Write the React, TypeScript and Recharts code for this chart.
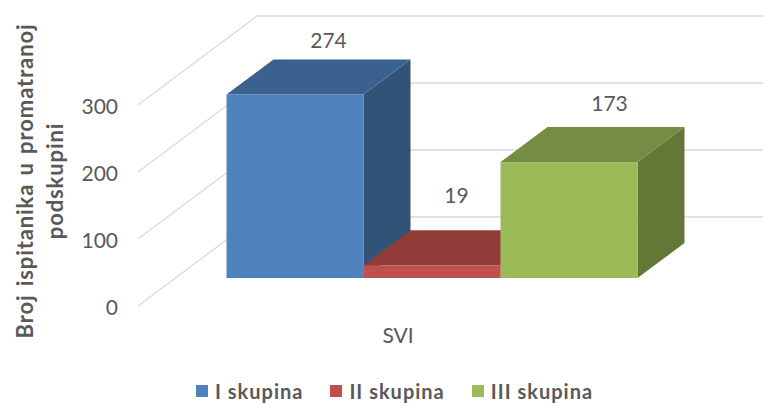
import React from "react";
import { BarChart, Bar, XAxis, YAxis, CartesianGrid, Legend, LabelList } from "recharts";

const categories = ["SVI"];
const seriesNames = ["I skupina", "II skupina", "III skupina"];
const seriesValues = [[274], [19], [173]];
const yTicks = [0, 100, 200, 300];
const yTitleLines = ["Broj ispitanika u promatranoj", "podskupini"];
const frontColors = ["#4F81BD", "#C0504D", "#9BBB59"];
const topColors = ["#3B618E", "#903C39", "#748C43"];
const sideColors = ["#325378", "#7B3331", "#637736"];
const labelShifts = [[68, -82.5], [59, -99], [75, -88]];

const data = categories.map((c, i) => {
  const row: Record<string, string | number> = { category: c };
  seriesNames.forEach((n, s) => { row[n] = seriesValues[s][i]; });
  return row;
});

const FONT = "Lato, sans-serif";
const TEXT = "#595959";
const SHIFT_X = 34.5, SHIFT_Y = 28, DEPTH_X = 47, DEPTH_Y = 35, GRID_X = 119, GRID_Y = 89;

const Box = (s: number) => (p: any) => {
  const x = p.x + SHIFT_X, y = p.y - SHIFT_Y, w = p.width, h = p.height;
  return (
    <g>
      <polygon points={`${x + w},${y} ${x + w + DEPTH_X},${y - DEPTH_Y} ${x + w + DEPTH_X},${y + h - DEPTH_Y} ${x + w},${y + h}`} fill={sideColors[s]} />
      <polygon points={`${x},${y} ${x + DEPTH_X},${y - DEPTH_Y} ${x + w + DEPTH_X},${y - DEPTH_Y} ${x + w},${y}`} fill={topColors[s]} />
      <rect x={x} y={y} width={w} height={h} fill={frontColors[s]} />
    </g>
  );
};

const GridLine = (p: any) => (
  <polyline
    points={`${p.x1},${p.y1} ${p.x1 + GRID_X},${p.y1 - GRID_Y} ${p.x2 + GRID_X},${p.y1 - GRID_Y}`}
    fill="none" stroke="#D9D9D9" strokeWidth={1.3}
  />
);

const ValueLabel = (s: number) => (p: any) => (
  <text x={p.x + p.width / 2 + labelShifts[s][0]} y={p.y + labelShifts[s][1]} textAnchor="middle"
    dominantBaseline="central" fontFamily={FONT} fontSize={21} fill={TEXT}>{p.value}</text>
);

const YTick = (p: any) => (
  <text x={118} y={p.y} textAnchor="end" dominantBaseline="central" fontFamily={FONT} fontSize={21} fill={TEXT}>
    {p.payload.value}
  </text>
);

const YTitle = () => (
  <text transform="translate(42,181) rotate(-90)" textAnchor="middle" fontFamily={FONT} fontSize={22} fontWeight={700} fill={TEXT} wordSpacing={2} letterSpacing={0.9}>
    {yTitleLines.map((l, i) => (
      <tspan key={l} x={0} y={i === 0 ? -9 : 21}>{l}</tspan>
    ))}
  </text>
);

const LegendBox = (p: any) => (
  <div style={{ display: "flex", fontFamily: FONT, fontSize: 20, fontWeight: 700, color: TEXT, lineHeight: "20px", letterSpacing: 1 }}>
    {p.payload.map((e: any, i: number) => (
      <div key={e.value} style={{ display: "flex", alignItems: "center", marginRight: i < 2 ? 27 : 0 }}>
        <span style={{ width: 12, height: 12, background: e.color, marginRight: 7, display: "inline-block" }} />
        <span>{e.value}</span>
      </div>
    ))}
  </div>
);

export default function App() {
  return (
    <div style={{ position: "absolute", left: 0, top: 0, width: 763, height: 403, background: "#fff", overflow: "hidden" }}>
      <BarChart width={763} height={403} data={data} barGap={0} barCategoryGap={54}
        margin={{ top: 105, right: 105, bottom: 47, left: 60 }}>
        <CartesianGrid vertical={false} horizontal={GridLine as any} syncWithTicks />
        <XAxis dataKey="category" axisLine={false} tickLine={false} tickMargin={16}
          tick={{ fontFamily: FONT, fontSize: 21, fill: TEXT }} />
        <YAxis domain={[0, 300]} ticks={yTicks} width={78} axisLine={false} tickLine={false}
          tick={YTick as any} label={<YTitle />} />
        <Legend content={LegendBox as any} verticalAlign="bottom" wrapperStyle={{ left: 196, top: 381, width: 460, bottom: "auto" }} />
        {seriesNames.map((n, s) => (
          <Bar key={n} dataKey={n} fill={frontColors[s]} shape={Box(s) as any} isAnimationActive={false}>
            <LabelList dataKey={n} content={ValueLabel(s) as any} />
          </Bar>
        ))}
      </BarChart>
    </div>
  );
}
